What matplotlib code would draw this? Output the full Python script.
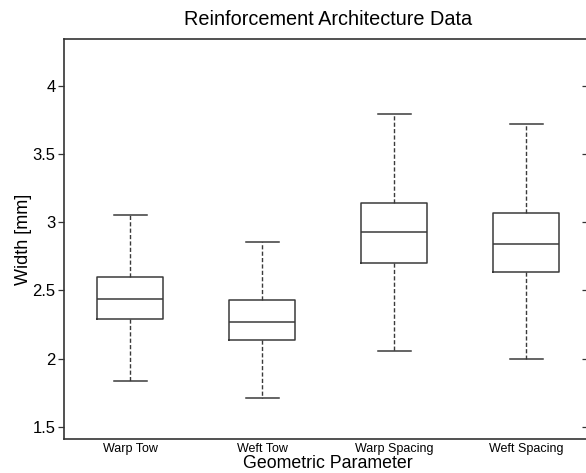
import matplotlib
matplotlib.use("Agg")
import matplotlib.pyplot as plt
import matplotlib.lines as mlines

categories = ["Warp Tow", "Weft Tow", "Warp Spacing", "Weft Spacing"]
whisker_low = [1.833, 1.711, 2.054, 1.995]
q1 = [2.292, 2.138, 2.702, 2.636]
median = [2.439, 2.272, 2.932, 2.838]
q3 = [2.598, 2.427, 3.142, 3.071]
whisker_high = [3.057, 2.853, 3.794, 3.721]
yticks = [1.5, 2, 2.5, 3, 3.5, 4]
ytick_labels = ["1.5", "2", "2.5", "3", "3.5", "4"]

plt.rcParams['font.family'] = ['Liberation Sans', 'DejaVu Sans']

fig = plt.figure(figsize=(5.86, 4.73), dpi=100)
ax = fig.add_axes([64/586, 34/473, 528/586, 400/473])

stats = []
for i, c in enumerate(categories):
    stats.append(dict(label=c, whislo=whisker_low[i], q1=q1[i], med=median[i],
                      q3=q3[i], whishi=whisker_high[i], fliers=[]))

col = "#3a3a3a"
ax.bxp(stats, positions=[1, 2, 3, 4], widths=0.5, showfliers=False,
       boxprops=dict(color=col, linewidth=1.1),
       medianprops=dict(color=col, linewidth=1.1),
       whiskerprops=dict(color=col, linewidth=1.0, linestyle=(0, (3, 1.6))),
       capprops=dict(color=col, linewidth=1.1),
       capwidths=0.25)

ax.set_xlim(0.5, 4.5)
ax.set_ylim(1.41, 4.345)
ax.set_yticks(yticks)
ax.set_yticklabels(ytick_labels, fontsize=12)
ax.set_xticks([1, 2, 3, 4])
ax.set_xticklabels(categories, fontsize=9)
ax.tick_params(axis='x', length=0, pad=3)
ax.tick_params(axis='y', direction='out', length=4, width=0.9, color="#333333",
               right=True, labelright=False, pad=2)
# right ticks inward
for line in ax.yaxis.get_majorticklines()[1::2]:
    line.set_marker(mlines.TICKLEFT)
    line.set_markersize(7)

for s in ax.spines.values():
    s.set_color("#333333")
    s.set_linewidth(1.2)

ax.set_title("Reinforcement Architecture Data", fontsize=14.3, pad=10)
ax.set_xlabel("Geometric Parameter", fontsize=12.8, labelpad=0)
ax.set_ylabel("Width [mm]", fontsize=13)
ax.yaxis.set_label_coords(-0.06, 0.5)

fig.savefig("out.png", dpi=100)
